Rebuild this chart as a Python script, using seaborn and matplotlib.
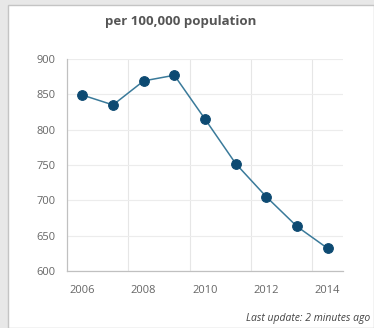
import matplotlib
matplotlib.use("Agg")
import matplotlib.pyplot as plt
import matplotlib.patches as mpatches
import seaborn as sns
import pandas as pd

years = [2006, 2007, 2008, 2009, 2010, 2011, 2012, 2013, 2014]
values = [849, 835, 869, 877, 815, 752, 705, 663, 632]
xticks = [2006, 2008, 2010, 2012, 2014]
yticks = [600, 650, 700, 750, 800, 850, 900]
title = "per 100,000 population"
footer = "Last update: 2 minutes ago"

sns.set_style("white")
plt.rcParams['font.family'] = ['Open Sans', 'DejaVu Sans']

fig = plt.figure(figsize=(3.74, 3.28), dpi=100)
fig.patch.set_facecolor('#e8e8e8')
panel = mpatches.Rectangle((8/374, 0), 1 - 8/374, 1 - 5/328, transform=fig.transFigure,
                           facecolor='white', edgecolor='#c4c4c4', linewidth=1.0, zorder=-10)
fig.patches.append(panel)

ax = fig.add_axes([67/374, 1 - 271/328, (343 - 67)/374, (271 - 59)/328])
ax.set_facecolor('white')
ax.set_zorder(1)

df = pd.DataFrame({"year": years, "value": values})
sns.lineplot(data=df, x="year", y="value", ax=ax, color='#3a7a9a', linewidth=1.1,
             marker='o', markersize=7, markerfacecolor='#0d4a72', markeredgecolor='#0d4a72')

ax.set_xlim(2005.5, 2014.5)
ax.set_ylim(600, 900)
ax.set_xticks(xticks)
ax.set_yticks(yticks)
ax.set_xlabel("")
ax.set_ylabel("")

# vertical gridlines between ticks
ax.set_xticks([2007.5, 2009.5, 2011.5, 2013.5], minor=True)
ax.grid(True, which='minor', axis='x', color='#e6e6e6', linewidth=0.8)
ax.grid(True, which='major', axis='y', color='#ececec', linewidth=0.8)
ax.tick_params(axis='x', which='minor', length=0)
ax.tick_params(axis='both', which='major', colors='#bdbdbd', labelcolor='#666666',
               labelsize=8, length=4, width=0.8)
ax.tick_params(axis='x', pad=6)
ax.tick_params(axis='y', pad=4)

for s in ['top', 'right']:
    ax.spines[s].set_visible(False)
for s in ['left', 'bottom']:
    ax.spines[s].set_color('#c0c0c0')
    ax.spines[s].set_linewidth(0.9)

fig.text(181/374, 1 - 21/328, title, ha='center', va='center', fontsize=9.5,
         fontweight='bold', color='#555555')
fig.text(370/374, 1 - 318/328, footer, ha='right', va='center', fontsize=7.5,
         style='italic', color='#444444')

fig.savefig("out.png", dpi=100, facecolor=fig.get_facecolor())
